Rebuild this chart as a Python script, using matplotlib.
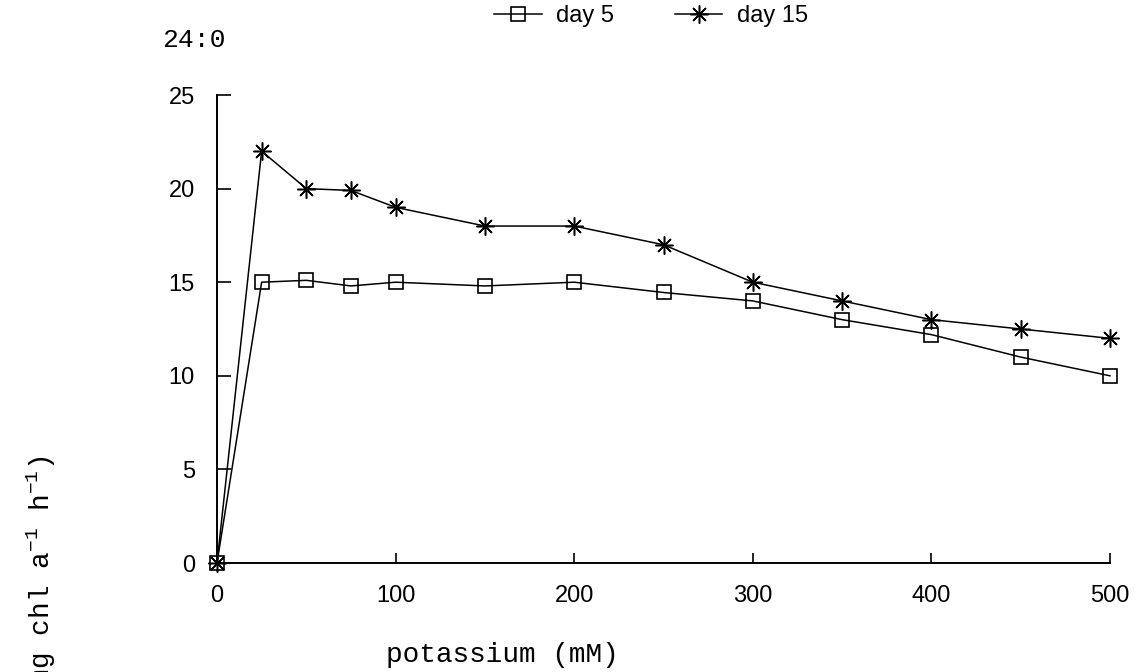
import numpy as np
import matplotlib
matplotlib.use("Agg")
import matplotlib.pyplot as plt

plt.rcParams['mathtext.fontset'] = 'custom'
plt.rcParams['mathtext.rm'] = 'Liberation Mono'
plt.rcParams['mathtext.it'] = 'Liberation Mono'

# potassium concentration (mM)
potassium = [0, 25, 50, 75, 100, 150, 200, 250, 300, 350, 400, 450, 500]
day5 = [0, 15.0, 15.1, 14.8, 15.0, 14.8, 15.0, 14.45, 14.0, 13.0, 12.2, 11.0, 10.0]
day15 = [0, 22.0, 20.0, 19.9, 19.0, 18.0, 18.0, 17.0, 15.0, 14.0, 13.0, 12.5, 12.0]

x_ticks = [0, 100, 200, 300, 400, 500]
y_ticks = [0, 5, 10, 15, 20, 25]

fig = plt.figure(figsize=(11.38, 6.72), dpi=100)
ax = fig.add_axes([217 / 1138, 1 - 563 / 672, (1110 - 217) / 1138, (563 - 95) / 672])

l5, = ax.plot(potassium, day5, '-', color='black', lw=1.1,
              marker='s', ms=10, mfc='none', mec='black', mew=1.2)
l15, = ax.plot(potassium, day15, '-', color='black', lw=1.1,
               marker=(8, 2, 0), ms=13, mec='black', mew=1.1)

ax.set_xlim(0, 500)
ax.set_ylim(0, 25)
ax.set_xticks(x_ticks)
ax.set_yticks(y_ticks)
ax.spines['top'].set_visible(False)
ax.spines['right'].set_visible(False)
for s in ['left', 'bottom']:
    ax.spines[s].set_linewidth(1.4)
ax.tick_params(direction='in', length=7, width=1.2, pad=16,
               labelsize=17, labelfontfamily='Liberation Sans')
ax.tick_params(axis='y', length=10)
for l in (l5, l15):
    l.set_clip_on(False)

fig.legend([l5, l15], ['day 5', 'day 15'], loc='center',
           bbox_to_anchor=(651 / 1138, 1 - 16 / 672), ncol=2, frameon=False,
           prop={'family': 'Liberation Sans', 'size': 17},
           handlelength=2.0, handletextpad=0.6, columnspacing=2.6, numpoints=1)

fig.text(162 / 1138, 1 - 40 / 672, '24:0', family='Liberation Mono',
         fontsize=19, va='center', ha='left')
fig.text(0.5 * (385 + 620) / 1138, 1 - 655 / 672, 'potassium (mM)',
         family='Liberation Mono', fontsize=20, ha='center', va='center')
fig.text(50 / 1138, 1 - 456 / 672,
         '(umol mg chl a$^{-1}$ h$^{-1}$)',
         family='Liberation Mono', fontsize=20, rotation=90,
         rotation_mode='anchor', ha='right', va='baseline')

fig.savefig('out.png', dpi=100)
